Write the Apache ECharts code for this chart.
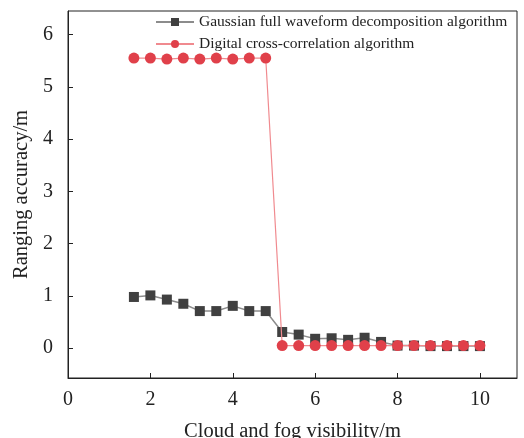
<!DOCTYPE html>
<html>
<head>
<meta charset="utf-8">
<script src="https://cdn.jsdelivr.net/npm/echarts@6/dist/echarts.min.js"></script>
<style>html,body{margin:0;padding:0;background:#fff}#c{width:524px;height:438px}</style>
</head>
<body>
<div id="c"></div>
<script>
const visibility = [1.6, 2.0, 2.4, 2.8, 3.2, 3.6, 4.0, 4.4, 4.8, 5.2, 5.6, 6.0, 6.4, 6.8, 7.2, 7.6, 8.0, 8.4, 8.8, 9.2, 9.6, 10.0];
const gaussian = [0.98, 1.01, 0.93, 0.85, 0.71, 0.71, 0.81, 0.71, 0.71, 0.31, 0.26, 0.18, 0.19, 0.16, 0.20, 0.12, 0.05, 0.05, 0.04, 0.04, 0.04, 0.04];
const crossCorr = [5.55, 5.55, 5.53, 5.55, 5.53, 5.55, 5.53, 5.55, 5.55, 0.05, 0.05, 0.05, 0.05, 0.05, 0.05, 0.05, 0.05, 0.05, 0.05, 0.05, 0.05, 0.05];
const yTicks = [0, 1, 2, 3, 4, 5, 6];
const xTicks = [0, 2, 4, 6, 8, 10];
const seriesNames = ['Gaussian full waveform decomposition algorithm', 'Digital cross-correlation algorithm'];
const xTitle = 'Cloud and fog visibility/m';
const yTitle = 'Ranging accuracy/m';

const font = 'Liberation Serif';
const chart = echarts.init(document.getElementById('c'));
chart.setOption({
  animation: false,
  textStyle: { fontFamily: font },
  grid: { left: 68, right: 7, top: 11, bottom: 60, show: true, borderColor: '#222', borderWidth: 1, containLabel: false, outerBoundsMode: 'none' },
  legend: {
    orient: 'vertical', left: 150, top: 9, itemWidth: 38, itemHeight: 10, itemGap: 6,
    textStyle: { fontFamily: font, fontSize: 15.5, color: '#222' },
    data: seriesNames
  },
  xAxis: {
    type: 'value', min: 0, max: 10.9,
    name: xTitle, nameLocation: 'middle', nameGap: 43,
    nameTextStyle: { fontFamily: font, fontSize: 20.5, color: '#222' },
    axisLine: { onZero: false, lineStyle: { color: '#222', width: 1 } },
    axisTick: { inside: true, length: 5, lineStyle: { color: '#222' }, customValues: xTicks },
    axisLabel: { fontFamily: font, fontSize: 20, color: '#222', margin: 12, customValues: xTicks },
    splitLine: { show: false }
  },
  yAxis: {
    type: 'value', min: -0.57, max: 6.45,
    name: yTitle, nameLocation: 'middle', nameGap: 36,
    nameTextStyle: { fontFamily: font, fontSize: 20.5, color: '#222' },
    axisLine: { show: true, onZero: false, lineStyle: { color: '#222', width: 1 } },
    axisTick: { show: true, inside: true, length: 5, lineStyle: { color: '#222' }, customValues: yTicks },
    axisLabel: { fontFamily: font, fontSize: 20, color: '#222', margin: 15, customValues: yTicks },
    splitLine: { show: false }
  },
  series: [
    {
      name: seriesNames[0], type: 'line',
      data: visibility.map((x, i) => [x, gaussian[i]]),
      symbol: 'rect', symbolSize: 10,
      itemStyle: { color: '#404040' },
      lineStyle: { color: '#8c8c8c', width: 1.5 },
      z: 2
    },
    {
      name: seriesNames[1], type: 'line',
      data: visibility.map((x, i) => [x, crossCorr[i]]),
      symbol: 'circle', symbolSize: 11,
      itemStyle: { color: '#e0404a' },
      lineStyle: { color: '#f08a8f', width: 1.2 },
      z: 3
    }
  ]
});
</script>
</body>
</html>
